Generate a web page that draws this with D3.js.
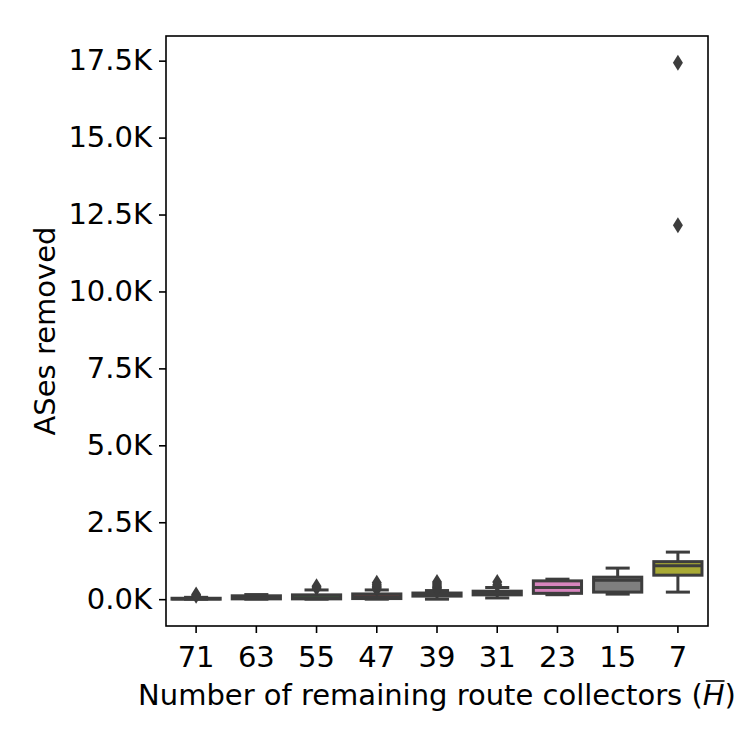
<!DOCTYPE html>
<html>
<head>
<meta charset="utf-8">
<script src="https://cdn.jsdelivr.net/npm/d3@7"></script>
<style>
  body { margin: 0; background: #fff; }
  text { font-family: "DejaVu Sans", sans-serif; }
</style>
</head>
<body>
<div id="chart"></div>
<script>
// --- Datos ---
const categories = ["71", "63", "55", "47", "39", "31", "23", "15", "7"];
const whiskerLow  = [0,   0,   0,   0,   0,   40,  145, 165, 230];
const q1          = [0,   10,  10,  20,  100, 140, 190, 230, 780];
const medians     = [10,  40,  50,  80,  150, 200, 380, 615, 1090];
const q3          = [30,  110, 140, 170, 200, 260, 595, 715, 1220];
const whiskerHigh = [60,  150, 300, 300, 280, 380, 650, 1010, 1530];
const outliers = [
    [110, 150],
    [],
    [360, 420],
    [320, 370, 420, 470, 530],
    [330, 380, 430, 490, 560],
    [460, 560],
    [],
    [],
    [12150, 17430]
];
const boxColors = ["#3274a1", "#e1812c", "#3a923a", "#c03d3e", "#9372b2",
                   "#845b53", "#d684bd", "#7f7f7f", "#a9aa35"];
const yTicks = [0, 2500, 5000, 7500, 10000, 12500, 15000, 17500];

// --- SVG ---
const width = 750, height = 750;
const margin = { top: 36, right: 42, bottom: 124, left: 166 };
const innerW = width - margin.left - margin.right;
const innerH = height - margin.top - margin.bottom;
const lineColor = "#3d3d3d";
const fontSize = 29;

const svg = d3.select("#chart").append("svg")
    .attr("width", width)
    .attr("height", height);

const g = svg.append("g")
    .attr("transform", `translate(${margin.left},${margin.top})`);

// --- Escalas ---
const x = d3.scaleBand()
    .domain(categories)
    .range([0, innerW])
    .padding(0);

const allMax = d3.max(outliers.flat().concat(whiskerHigh));
const allMin = d3.min(whiskerLow);
const pad = (allMax - allMin) * 0.05;
const y = d3.scaleLinear()
    .domain([allMin - pad, allMax + pad])
    .range([innerH, 0]);

const boxW = x.bandwidth() * 0.8;
const capW = boxW / 2;

// --- Cajas ---
const data = categories.map((c, i) => ({
    cat: c, lo: whiskerLow[i], q1: q1[i], med: medians[i], q3: q3[i],
    hi: whiskerHigh[i], out: outliers[i], color: boxColors[i]
}));

const boxes = g.selectAll("g.box")
    .data(data)
    .enter()
    .append("g")
    .attr("class", "box")
    .attr("transform", d => `translate(${x(d.cat) + x.bandwidth() / 2},0)`);

// bigotes
boxes.append("line")
    .attr("x1", 0).attr("x2", 0)
    .attr("y1", d => y(d.q3)).attr("y2", d => y(d.hi))
    .attr("stroke", lineColor).attr("stroke-width", 3);
boxes.append("line")
    .attr("x1", 0).attr("x2", 0)
    .attr("y1", d => y(d.q1)).attr("y2", d => y(d.lo))
    .attr("stroke", lineColor).attr("stroke-width", 3);
boxes.append("line")
    .attr("x1", -capW / 2).attr("x2", capW / 2)
    .attr("y1", d => y(d.hi)).attr("y2", d => y(d.hi))
    .attr("stroke", lineColor).attr("stroke-width", 3);
boxes.append("line")
    .attr("x1", -capW / 2).attr("x2", capW / 2)
    .attr("y1", d => y(d.lo)).attr("y2", d => y(d.lo))
    .attr("stroke", lineColor).attr("stroke-width", 3);

boxes.append("rect")
    .attr("x", -boxW / 2)
    .attr("width", boxW)
    .attr("y", d => y(d.q3))
    .attr("height", d => Math.max(0, y(d.q1) - y(d.q3)))
    .attr("fill", d => d.color)
    .attr("stroke", lineColor)
    .attr("stroke-width", 3);

boxes.append("line")
    .attr("x1", -boxW / 2).attr("x2", boxW / 2)
    .attr("y1", d => y(d.med)).attr("y2", d => y(d.med))
    .attr("stroke", lineColor).attr("stroke-width", 3);

// outliers (diamantes)
const dh = 8, dw = 5;
boxes.selectAll("path.flier")
    .data(d => d.out)
    .enter()
    .append("path")
    .attr("class", "flier")
    .attr("d", v => `M0,${y(v) - dh}L${dw},${y(v)}L0,${y(v) + dh}L${-dw},${y(v)}Z`)
    .attr("fill", lineColor);

// --- Ejes ---
const yAxis = d3.axisLeft(y)
    .tickValues(yTicks)
    .tickFormat(d => (d / 1000).toFixed(1) + "K")
    .tickSize(7)
    .tickSizeOuter(0)
    .tickPadding(7);

const yG = g.append("g").call(yAxis);
yG.select(".domain").remove();
yG.selectAll(".tick line").attr("stroke", "#000").attr("stroke-width", 1.6);
yG.selectAll(".tick text")
    .attr("font-size", fontSize)
    .attr("font-family", "DejaVu Sans")
    .attr("fill", "#000");

const xAxis = d3.axisBottom(x)
    .tickSize(7)
    .tickSizeOuter(0)
    .tickPadding(7);

const xG = g.append("g")
    .attr("transform", `translate(0,${innerH})`)
    .call(xAxis);
xG.select(".domain").remove();
xG.selectAll(".tick line").attr("stroke", "#000").attr("stroke-width", 1.6);
xG.selectAll(".tick text")
    .attr("font-size", fontSize)
    .attr("font-family", "DejaVu Sans")
    .attr("dy", "0.93em")
    .attr("fill", "#000");

// marco
g.append("rect")
    .attr("width", innerW)
    .attr("height", innerH)
    .attr("fill", "none")
    .attr("stroke", "#000")
    .attr("stroke-width", 1.6);

// --- Títulos ---
svg.append("text")
    .attr("transform", `translate(55,${margin.top + innerH / 2}) rotate(-90)`)
    .attr("text-anchor", "middle")
    .attr("font-size", fontSize)
    .attr("fill", "#000")
    .text("ASes removed");

const xLabel = svg.append("text")
    .attr("x", margin.left + innerW / 2)
    .attr("y", 705)
    .attr("text-anchor", "middle")
    .attr("font-size", fontSize)
    .attr("fill", "#000");
xLabel.append("tspan").text("Number of remaining route collectors (");
xLabel.append("tspan").attr("font-style", "italic").text("H");
xLabel.append("tspan").text(")");

// barra sobre la H
const node = xLabel.node();
const hIdx = "Number of remaining route collectors (".length;
const ext = node.getExtentOfChar(hIdx);
svg.append("line")
    .attr("x1", ext.x + 3)
    .attr("x2", ext.x + ext.width)
    .attr("y1", ext.y + 3)
    .attr("y2", ext.y + 3)
    .attr("stroke", "#000")
    .attr("stroke-width", 1.6);
</script>
</body>
</html>
